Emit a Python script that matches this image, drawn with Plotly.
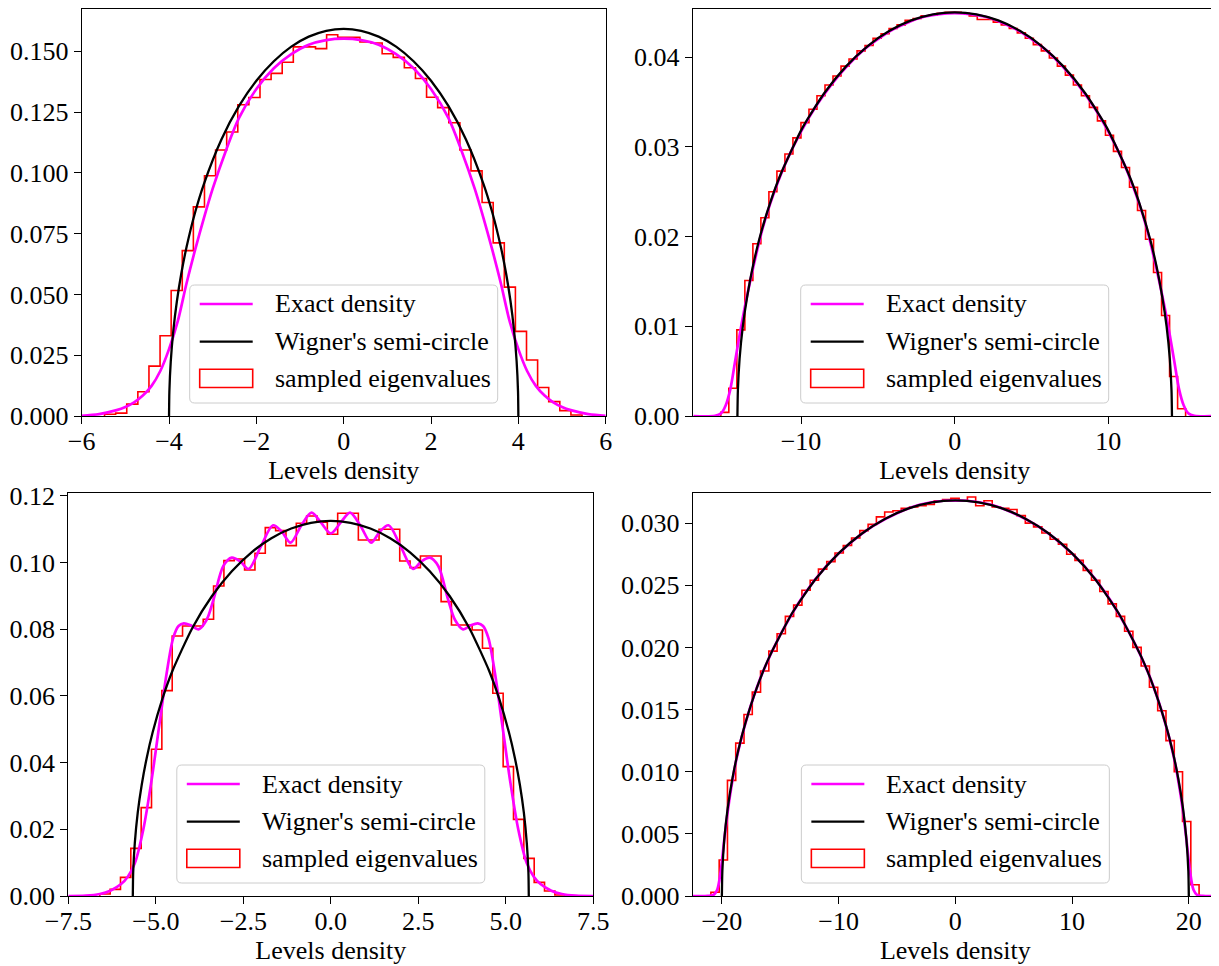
import numpy as np
import plotly.graph_objects as go

# The page body has an 8 px margin, so the figure is 8 px smaller and all
# pixel positions below (measured on the 1219x966 target) are shifted by 8.
OFF = 8
W, H = 1219 - OFF, 966 - OFF
FONT = "Liberation Serif"
FS = 26

# ======================= DATA =======================
legend_labels = ["Exact density", "Wigner's semi-circle", "sampled eigenvalues"]
x_title = "Levels density"

# ---- Panel 1 (top-left) ----
p1_bin_start = -5.477
p1_bin_width = 0.2543
p1_hist = [0.0007, 0.0012, 0.0049, 0.0100, 0.0205, 0.0330, 0.0516, 0.0680, 0.0860, 0.0988,
           0.1094, 0.1168, 0.1280, 0.1310, 0.1384, 0.1409, 0.1455, 0.1518, 0.1518, 0.1511,
           0.1568, 0.1557, 0.1557, 0.1538, 0.1534, 0.1490, 0.1475, 0.1432, 0.1388, 0.1311,
           0.1268, 0.1206, 0.1094, 0.1008, 0.0878, 0.0712, 0.0530, 0.0348, 0.0230, 0.0117,
           0.0059, 0.0022, 0.0004]
p1_exact_x = [-6.0, -5.6, -5.2, -5.0, -4.8, -4.6, -4.4, -4.2, -4.0, -3.8, -3.6, -3.4, -3.2, -3.0,
              -2.7, -2.4, -2.0, -1.6, -1.2, -0.8, -0.4, 0.0, 0.4, 0.8, 1.2, 1.6, 2.0, 2.4, 2.7,
              3.0, 3.2, 3.4, 3.6, 3.8, 4.0, 4.2, 4.4, 4.6, 4.8, 5.0, 5.2, 5.6, 6.0]
p1_exact_y = [0.0001, 0.0008, 0.0024, 0.0037, 0.0056, 0.0084, 0.0124, 0.0185, 0.0275, 0.0390,
              0.0545, 0.0685, 0.0815, 0.0935, 0.1090, 0.1225, 0.1345, 0.1430, 0.1488, 0.1527,
              0.1546, 0.1552, 0.1546, 0.1527, 0.1488, 0.1430, 0.1345, 0.1225, 0.1090, 0.0935,
              0.0815, 0.0685, 0.0545, 0.0390, 0.0275, 0.0185, 0.0124, 0.0084, 0.0056, 0.0037,
              0.0024, 0.0008, 0.0001]
p1_wigner_x = [-4.0, -3.992, -3.96, -3.9, -3.82, -3.72, -3.6, -3.4, -3.2, -2.8, -2.4, -2.0, -1.6,
               -1.2, -0.8, -0.4, 0.0, 0.4, 0.8, 1.2, 1.6, 2.0, 2.4, 2.8, 3.2, 3.4, 3.6, 3.72,
               3.82, 3.9, 3.96, 3.992, 4.0]
p1_wigner_y = [0.0, 0.0101, 0.0225, 0.0354, 0.0472, 0.0585, 0.0694, 0.0839, 0.0955, 0.1137,
               0.1274, 0.1379, 0.1459, 0.1519, 0.1560, 0.1584, 0.1592, 0.1584, 0.1560, 0.1519,
               0.1459, 0.1379, 0.1274, 0.1137, 0.0955, 0.0839, 0.0694, 0.0585, 0.0472, 0.0354,
               0.0225, 0.0101, 0.0]
p1_xticks = [-6, -4, -2, 0, 2, 4, 6]
p1_yticks = [0.0, 0.025, 0.05, 0.075, 0.1, 0.125, 0.15]

# ---- Panel 2 (top-right) ----
p2_bin_start = -15.22
p2_bin_width = 0.5215
p2_hist = [0.0004, 0.0031, 0.0096, 0.0151, 0.0192, 0.0221, 0.0250, 0.0273, 0.0292, 0.0310,
           0.0327, 0.0342, 0.0357, 0.0369, 0.0379, 0.0390, 0.0398, 0.0407, 0.0413, 0.0421,
           0.0426, 0.0432, 0.0436, 0.0441, 0.0443, 0.0446, 0.0447, 0.0449, 0.0450, 0.0450,
           0.0449, 0.0446, 0.0442, 0.0442, 0.0439, 0.0436, 0.0432, 0.0427, 0.0421, 0.0414,
           0.0407, 0.0399, 0.0390, 0.0380, 0.0369, 0.0357, 0.0344, 0.0329, 0.0313, 0.0295,
           0.0277, 0.0255, 0.0229, 0.0197, 0.0160, 0.0112, 0.0044, 0.0008]
p2_exact_x = [-17.0, -15.6, -15.2, -14.9, -14.6, -14.3, -14.0, -13.7, -13.4, -13.0, -12.5, -12.0,
              -11.0, -10.0, -9.0, -8.0, -7.0, -6.0, -5.0, -4.0, -3.0, -2.0, -1.0, 0.0, 1.0, 2.0,
              3.0, 4.0, 5.0, 6.0, 7.0, 8.0, 9.0, 10.0, 11.0, 12.0, 12.5, 13.0, 13.4, 13.7, 14.0,
              14.3, 14.6, 14.9, 15.2, 15.6, 17.0]
p2_exact_y = [0.0, 0.00003, 0.0003, 0.0012, 0.0030, 0.0060, 0.0090, 0.0118, 0.0143, 0.0174,
              0.0209, 0.0237, 0.0282, 0.0317, 0.0346, 0.0370, 0.0390, 0.0407, 0.0420, 0.0431,
              0.0439, 0.0445, 0.0448, 0.0449, 0.0448, 0.0445, 0.0439, 0.0431, 0.0420, 0.0407,
              0.0390, 0.0370, 0.0346, 0.0317, 0.0282, 0.0237, 0.0209, 0.0174, 0.0143, 0.0118,
              0.0090, 0.0060, 0.0030, 0.0012, 0.0003, 0.00003, 0.0]
p2_wigner_x = [-14.14, -14.11, -14.0, -13.79, -13.5, -13.15, -12.73, -12.02, -11.31, -9.9, -8.48,
               -7.07, -5.66, -4.24, -2.83, -1.41, 0.0, 1.41, 2.83, 4.24, 5.66, 7.07, 8.48, 9.9,
               11.31, 12.02, 12.73, 13.15, 13.5, 13.79, 14.0, 14.11, 14.14]
p2_wigner_y = [0.0, 0.00284, 0.00635, 0.0100, 0.01335, 0.01654, 0.01962, 0.02371, 0.0270,
               0.03214, 0.0360, 0.03897, 0.04124, 0.04293, 0.04409, 0.04477, 0.0450, 0.04477,
               0.04409, 0.04293, 0.04124, 0.03897, 0.0360, 0.03214, 0.0270, 0.02371, 0.01962,
               0.01654, 0.01335, 0.0100, 0.00635, 0.00284, 0.0]
p2_xticks = [-10, 0, 10]
p2_yticks = [0.0, 0.01, 0.02, 0.03, 0.04]

# ---- Panel 3 (bottom-left) ----
p3_bin_start = -6.60
p3_bin_width = 0.2955
p3_hist = [0.0006, 0.0020, 0.0056, 0.0143, 0.0265, 0.0440, 0.0616, 0.0780, 0.0810, 0.0810,
           0.0830, 0.0930, 0.1006, 0.1011, 0.0978, 0.1028, 0.1105, 0.1096, 0.1051, 0.1118,
           0.1140, 0.1121, 0.1085, 0.1148, 0.1148, 0.1068, 0.1068, 0.1100, 0.1100, 0.1005,
           0.0985, 0.1020, 0.1020, 0.0883, 0.0813, 0.0813, 0.0798, 0.0743, 0.0608, 0.0388,
           0.0230, 0.0113, 0.0041, 0.0015, 0.0003]
p3_exact_x = [-7.5, -7.0, -6.6, -6.3, -6.0, -5.8, -5.6, -5.36, -5.12, -4.88, -4.69, -4.5, -4.35,
              -4.2, -4.0, -3.78, -3.55, -3.35, -3.07, -2.83, -2.58, -2.35, -2.0, -1.65, -1.4,
              -1.15, -0.85, -0.55, -0.28, 0.0, 0.28, 0.55, 0.85, 1.15, 1.4, 1.65, 2.0, 2.35,
              2.58, 2.83, 3.07, 3.35, 3.55, 3.78, 4.0, 4.2, 4.35, 4.5, 4.69, 4.88, 5.12, 5.36,
              5.6, 5.8, 6.0, 6.3, 6.6, 7.0, 7.5]
p3_exact_y = [0.0, 0.0001, 0.0006, 0.0016, 0.0035, 0.0058, 0.0098, 0.0198, 0.0348, 0.0528,
              0.0668, 0.0775, 0.0810, 0.0818, 0.0812, 0.0800, 0.0828, 0.0890, 0.0990, 0.1015,
              0.1003, 0.0981, 0.1048, 0.1112, 0.1093, 0.1060, 0.1110, 0.1150, 0.1120, 0.1088,
              0.1120, 0.1150, 0.1110, 0.1060, 0.1093, 0.1112, 0.1048, 0.0981, 0.1003, 0.1015,
              0.0990, 0.0890, 0.0828, 0.0800, 0.0812, 0.0818, 0.0810, 0.0775, 0.0668, 0.0528,
              0.0348, 0.0198, 0.0098, 0.0058, 0.0035, 0.0016, 0.0006, 0.0001, 0.0]
p3_wigner_x = [-5.657, -5.646, -5.6, -5.516, -5.402, -5.261, -5.091, -4.808, -4.526, -3.96,
               -3.394, -2.828, -2.263, -1.697, -1.131, -0.566, 0.0, 0.566, 1.131, 1.697, 2.263,
               2.828, 3.394, 3.96, 4.526, 4.808, 5.091, 5.261, 5.402, 5.516, 5.6, 5.646, 5.657]
p3_wigner_y = [0.0, 0.00711, 0.01587, 0.0250, 0.03337, 0.04135, 0.04904, 0.05926, 0.0675,
               0.08034, 0.0900, 0.09743, 0.10311, 0.10732, 0.11023, 0.11194, 0.1125, 0.11194,
               0.11023, 0.10732, 0.10311, 0.09743, 0.0900, 0.08034, 0.0675, 0.05926, 0.04904,
               0.04135, 0.03337, 0.0250, 0.01587, 0.00711, 0.0]
p3_xticks = [-7.5, -5.0, -2.5, 0.0, 2.5, 5.0, 7.5]
p3_yticks = [0.0, 0.02, 0.04, 0.06, 0.08, 0.10, 0.12]

# ---- Panel 4 (bottom-right) ----
p4_bin_start = -20.94
p4_bin_width = 0.7088
p4_hist = [0.0003, 0.0029, 0.0093, 0.0123, 0.0146, 0.0164, 0.0181, 0.0197, 0.0211, 0.0225,
           0.0234, 0.0246, 0.0254, 0.0263, 0.0269, 0.0276, 0.0282, 0.0288, 0.0294, 0.0299,
           0.0305, 0.0309, 0.0310, 0.0312, 0.0313, 0.0314, 0.0315, 0.0318, 0.0319, 0.0320,
           0.0318, 0.0321, 0.0314, 0.0318, 0.0313, 0.0312, 0.0311, 0.0306, 0.0300, 0.0297,
           0.0292, 0.0287, 0.0283, 0.0275, 0.0270, 0.0262, 0.0254, 0.0245, 0.0235, 0.0225,
           0.0213, 0.0200, 0.0185, 0.0168, 0.0149, 0.0125, 0.0100, 0.0060, 0.0009]
p4_exact_x = [-22.5, -21.2, -20.7, -20.4, -20.1, -19.8, -19.5, -19.2, -18.8, -18.3, -17.5, -16.5,
              -15.0, -13.0, -11.0, -9.0, -7.0, -5.0, -3.0, -1.0, 0.0, 1.0, 3.0, 5.0, 7.0, 9.0,
              11.0, 13.0, 15.0, 16.5, 17.5, 18.3, 18.8, 19.2, 19.5, 19.8, 20.1, 20.4, 20.7,
              21.2, 22.5]
p4_exact_y = [0.0, 0.00001, 0.0001, 0.0005, 0.0020, 0.0045, 0.0068, 0.0087, 0.0108, 0.0128,
              0.0154, 0.0180, 0.0210, 0.0242, 0.0266, 0.0284, 0.0298, 0.0308, 0.0315, 0.0318,
              0.0318, 0.0318, 0.0315, 0.0308, 0.0298, 0.0284, 0.0266, 0.0242, 0.0210, 0.0180,
              0.0154, 0.0128, 0.0108, 0.0087, 0.0068, 0.0045, 0.0020, 0.0005, 0.0001, 0.00001,
              0.0]
p4_wigner_x = [-20.0, -19.96, -19.8, -19.5, -19.1, -18.6, -18.0, -17.0, -16.0, -14.0, -12.0,
               -10.0, -8.0, -6.0, -4.0, -2.0, 0.0, 2.0, 4.0, 6.0, 8.0, 10.0, 12.0, 14.0, 16.0,
               17.0, 18.0, 18.6, 19.1, 19.5, 19.8, 19.96, 20.0]
p4_wigner_y = [0.0, 0.00201, 0.00449, 0.00707, 0.00944, 0.0117, 0.01387, 0.01677, 0.0191,
               0.02273, 0.02546, 0.02757, 0.02917, 0.03036, 0.03119, 0.03167, 0.03183, 0.03167,
               0.03119, 0.03036, 0.02917, 0.02757, 0.02546, 0.02273, 0.0191, 0.01677, 0.01387,
               0.0117, 0.00944, 0.00707, 0.00449, 0.00201, 0.0]
p4_xticks = [-20, -10, 0, 10, 20]
p4_yticks = [0.0, 0.005, 0.010, 0.015, 0.020, 0.025, 0.030]

# ======================= LAYOUT SPEC =======================
# boxes: (left, top, right, bottom) in target-image pixels
panels = [
    dict(box=(81.7, 7.3, 605.7, 416.0), xr=[-6, 6], yr=[0, 0.1675], xfmt="d", yfmt=".3f",
         start=p1_bin_start, width=p1_bin_width, hist=p1_hist,
         ex=p1_exact_x, ey=p1_exact_y, wx=p1_wigner_x, wy=p1_wigner_y,
         xt=p1_xticks, yt=p1_yticks),
    dict(box=(692.7, 7.3, 1216.7, 416.0), xr=[-17.05, 17.05], yr=[0, 0.0454], xfmt="d", yfmt=".2f",
         start=p2_bin_start, width=p2_bin_width, hist=p2_hist,
         ex=p2_exact_x, ey=p2_exact_y, wx=p2_wigner_x, wy=p2_wigner_y,
         xt=p2_xticks, yt=p2_yticks),
    dict(box=(68.3, 493.3, 593.3, 896.0), xr=[-7.5, 7.5], yr=[0, 0.1208], xfmt=".1f", yfmt=".2f",
         start=p3_bin_start, width=p3_bin_width, hist=p3_hist,
         ex=p3_exact_x, ey=p3_exact_y, wx=p3_wigner_x, wy=p3_wigner_y,
         xt=p3_xticks, yt=p3_yticks),
    dict(box=(692.7, 493.3, 1218.0, 896.0), xr=[-22.5, 22.5], yr=[0, 0.0324], xfmt="d", yfmt=".3f",
         start=p4_bin_start, width=p4_bin_width, hist=p4_hist,
         ex=p4_exact_x, ey=p4_exact_y, wx=p4_wigner_x, wy=p4_wigner_y,
         xt=p4_xticks, yt=p4_yticks),
]

fig = go.Figure()
shapes = []
annotations = []

tickfont = dict(family=FONT, size=FS, color="black")


def rounded_rect_path(x0, y0, x1, y1, rx, ry):
    return (f"M {x0 + rx},{y0} L {x1 - rx},{y0} Q {x1},{y0} {x1},{y0 + ry} "
            f"L {x1},{y1 - ry} Q {x1},{y1} {x1 - rx},{y1} L {x0 + rx},{y1} "
            f"Q {x0},{y1} {x0},{y1 - ry} L {x0},{y0 + ry} Q {x0},{y0} {x0 + rx},{y0} Z")


for i, p in enumerate(panels):
    sfx = "" if i == 0 else str(i + 1)
    xa, ya = "x" + sfx, "y" + sfx
    edges = p["start"] + p["width"] * np.arange(len(p["hist"]) + 1)
    hx = np.repeat(edges, 2)
    hy = np.concatenate([[0.0], np.repeat(np.array(p["hist"]), 2), [0.0]])

    fig.add_trace(go.Scatter(x=hx, y=hy, mode="lines", name=legend_labels[2],
                             line=dict(color="#ff0000", width=1.6),
                             xaxis=xa, yaxis=ya, showlegend=False, hoverinfo="skip"))
    fig.add_trace(go.Scatter(x=p["ex"], y=p["ey"], mode="lines", name=legend_labels[0],
                             line=dict(color="#ff00ff", width=2.7, shape="spline", smoothing=0.9),
                             xaxis=xa, yaxis=ya, showlegend=False))
    fig.add_trace(go.Scatter(x=p["wx"], y=p["wy"], mode="lines", name=legend_labels[1],
                             line=dict(color="black", width=2.3, shape="spline", smoothing=0.6),
                             xaxis=xa, yaxis=ya, showlegend=False))

    x0, y0, x1, y1 = p["box"]
    x0, x1, y1 = x0 - OFF, min(x1 - OFF, W - 0.6), y1 - OFF
    y0 = max(y0 - OFF, 0.7)
    wpx, hpx = x1 - x0, y1 - y0
    xdom = [x0 / W, x1 / W]
    ydom = [1 - y1 / H, 1 - y0 / H]

    fig.layout["xaxis" + sfx] = dict(
        domain=xdom, range=p["xr"], anchor=ya, tickmode="array", tickvals=p["xt"],
        tickformat=p["xfmt"], showline=True, mirror=True, linecolor="black", linewidth=1.2,
        ticks="outside", ticklen=7, tickwidth=1.2, tickcolor="black", showgrid=False,
        zeroline=False, tickfont=tickfont, automargin=False, ticklabelstandoff=-5,
        title=dict(text=x_title, font=dict(family=FONT, size=FS, color="black"), standoff=5))
    fig.layout["yaxis" + sfx] = dict(
        domain=ydom, range=p["yr"], anchor=xa, tickmode="array", tickvals=p["yt"],
        tickformat=p["yfmt"], showline=True, mirror=True, linecolor="black", linewidth=1.2,
        ticks="outside", ticklen=7, tickwidth=1.2, tickcolor="black", showgrid=False,
        zeroline=False, tickfont=tickfont, automargin=False)

    # ---- legend drawn in px offsets relative to the axes box ----
    cx = wpx / 2.0
    fx = lambda px: px / wpx          # px from axes left
    fy = lambda up: up / hpx          # px above axes bottom
    xref, yref = xa + " domain", ya + " domain"
    bl, br = cx - 154, cx + 154
    shapes.append(dict(type="path", xref=xref, yref=yref,
                       path=rounded_rect_path(fx(bl), fy(13), fx(br), fy(131), fx(5), fy(5)),
                       line=dict(color="#cccccc", width=1),
                       fillcolor="rgba(255,255,255,0.85)", layer="above"))
    rows = [112, 74.3, 37.7]
    shapes.append(dict(type="line", xref=xref, yref=yref, x0=fx(bl + 10), x1=fx(bl + 63),
                       y0=fy(rows[0]), y1=fy(rows[0]), line=dict(color="#ff00ff", width=2.7),
                       layer="above"))
    shapes.append(dict(type="line", xref=xref, yref=yref, x0=fx(bl + 10), x1=fx(bl + 63),
                       y0=fy(rows[1]), y1=fy(rows[1]), line=dict(color="black", width=2.3),
                       layer="above"))
    shapes.append(dict(type="rect", xref=xref, yref=yref, x0=fx(bl + 10), x1=fx(bl + 63),
                       y0=fy(28.5), y1=fy(46.7), line=dict(color="#ff0000", width=1.6),
                       fillcolor="rgba(0,0,0,0)", layer="above"))
    for lab, r in zip(legend_labels, rows):
        annotations.append(dict(text=lab, xref=xref, yref=yref, x=fx(bl + 83), y=fy(r),
                                xanchor="left", yanchor="middle", showarrow=False,
                                font=dict(family=FONT, size=FS, color="black")))

fig.update_layout(
    width=W, height=H, margin=dict(l=0, r=0, t=0, b=0),
    paper_bgcolor="white", plot_bgcolor="white",
    font=dict(family=FONT, size=FS, color="black"),
    showlegend=False, shapes=shapes, annotations=annotations,
)

fig.write_html("out.html")
